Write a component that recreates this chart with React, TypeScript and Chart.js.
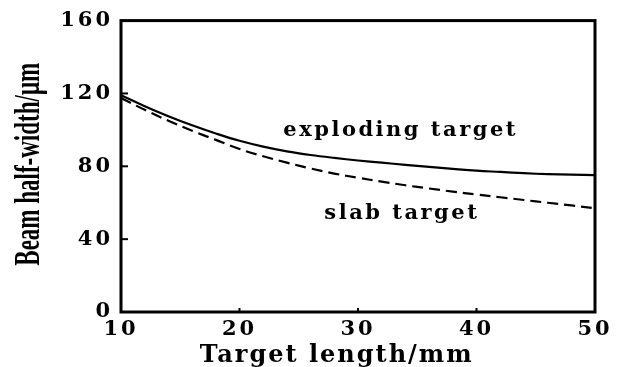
import React, { useEffect, useRef } from 'react';
import { Chart, registerables } from 'chart.js';

Chart.register(...registerables);

// ---- data ----
const targetLength = [10, 12, 14, 16, 18, 20, 22, 24, 26, 28, 30, 32, 34, 36, 38, 40, 42, 44, 46, 48, 50];
const explodingTarget = [119, 113, 107.5, 102.5, 98, 94, 90.8, 88.2, 86.2, 84.6, 83.2, 82, 80.8, 79.7, 78.6, 77.6, 76.9, 76.2, 75.7, 75.4, 75.2];
const slabTarget = [117.5, 111, 105, 99.5, 94.5, 89.5, 85.5, 82, 78.8, 76, 73.7, 71.6, 69.6, 67.8, 66.1, 64.5, 63, 61.5, 60, 58.5, 57];
const xTicks = [10, 20, 30, 40, 50];
const yTicks = [0, 40, 80, 120, 160];
const innerXTicks = [20, 30, 40];
const innerYTicks = [40, 80, 120];
const xTitle = 'Target length/mm';
const yTitle = 'Beam half-width/μm';
const seriesNames = ['exploding target', 'slab target'];
// anchor of each series label, in data units
const labelAnchorX = [33.6, 33.7];
const labelAnchorY = [99.5, 54];
// x-title anchor, in data units of the x scale
const xTitleAnchor = 28.2;

const TICK_FONT = { family: '"DejaVu Serif"', weight: 'bold' as const, size: 21 };

const framePlugin = {
  id: 'framePlugin',
  beforeDraw(chart: any) {
    chart.ctx.letterSpacing = '3px';
  },
  afterDatasetsDraw(chart: any) {
    const { ctx, chartArea: a, scales } = chart;
    const x = scales.x;
    const y = scales.y;
    ctx.save();
    ctx.strokeStyle = '#000';
    ctx.fillStyle = '#000';
    ctx.lineWidth = 3;
    ctx.strokeRect(a.left, a.top, a.right - a.left, a.bottom - a.top);
    ctx.lineWidth = 2;
    for (const v of innerYTicks) {
      const py = y.getPixelForValue(v);
      ctx.beginPath();
      ctx.moveTo(a.left, py);
      ctx.lineTo(a.left + 7, py);
      ctx.stroke();
    }
    for (const v of innerXTicks) {
      const px = x.getPixelForValue(v);
      ctx.beginPath();
      ctx.moveTo(px, a.bottom);
      ctx.lineTo(px, a.bottom - 4);
      ctx.stroke();
    }
    // series labels
    ctx.font = 'bold 21px "DejaVu Serif"';
    ctx.letterSpacing = '2.5px';
    ctx.textAlign = 'center';
    ctx.textBaseline = 'middle';
    seriesNames.forEach((name, i) => {
      ctx.fillText(name, x.getPixelForValue(labelAnchorX[i]), y.getPixelForValue(labelAnchorY[i]));
    });
    // x-axis title
    ctx.font = 'bold 24px "DejaVu Serif"';
    ctx.letterSpacing = '2px';
    ctx.fillText(xTitle, x.getPixelForValue(xTitleAnchor), 356);
    ctx.restore();

    // y-axis title (tall, condensed look)
    ctx.save();
    ctx.fillStyle = '#000';
    ctx.letterSpacing = '0px';
    ctx.translate(29, (a.top + a.bottom) / 2 - 2);
    ctx.rotate(-Math.PI / 2);
    ctx.scale(1, 1.6);
    ctx.font = 'bold 23px "Liberation Serif"';
    ctx.textAlign = 'center';
    ctx.textBaseline = 'middle';
    ctx.fillText(yTitle, 0, 0);
    ctx.restore();
  },
};

export default function App() {
  const ref = useRef<HTMLCanvasElement | null>(null);

  useEffect(() => {
    document.body.style.margin = '0';
    const canvas = ref.current;
    if (!canvas) return;
    const chart = new Chart(canvas, {
      type: 'line',
      data: {
        datasets: [
          {
            label: seriesNames[0],
            data: targetLength.map((t, i) => ({ x: t, y: explodingTarget[i] })),
            borderColor: '#000',
            borderWidth: 2.2,
            pointRadius: 0,
            tension: 0.4,
            fill: false,
          },
          {
            label: seriesNames[1],
            data: targetLength.map((t, i) => ({ x: t, y: slabTarget[i] })),
            borderColor: '#000',
            borderWidth: 2.2,
            borderDash: [11, 6],
            pointRadius: 0,
            tension: 0.4,
            fill: false,
          },
        ],
      },
      options: {
        animation: false,
        responsive: false,
        devicePixelRatio: 1,
        layout: { padding: { top: 11, right: 28, left: 0, bottom: 0 } },
        plugins: { legend: { display: false }, tooltip: { enabled: false } },
        scales: {
          x: {
            type: 'linear',
            min: 10,
            max: 50,
            afterFit: (s: any) => { s.height = 55; },
            afterBuildTicks: (s: any) => { s.ticks = xTicks.map((v) => ({ value: v })); },
            ticks: { font: TICK_FONT, color: '#000', padding: 5 },
            grid: { display: false, drawTicks: false },
            border: { display: false },
            title: { display: false, text: xTitle },
          },
          y: {
            type: 'linear',
            min: 0,
            max: 160,
            afterFit: (s: any) => { s.width = 121; },
            afterBuildTicks: (s: any) => { s.ticks = yTicks.map((v) => ({ value: v })); },
            ticks: { font: TICK_FONT, color: '#000', padding: 8 },
            grid: { display: false, drawTicks: false },
            border: { display: false },
          },
        },
      },
      plugins: [framePlugin],
    });
    return () => chart.destroy();
  }, []);

  return <canvas ref={ref} width={623} height={367} style={{ display: 'block' }} />;
}
